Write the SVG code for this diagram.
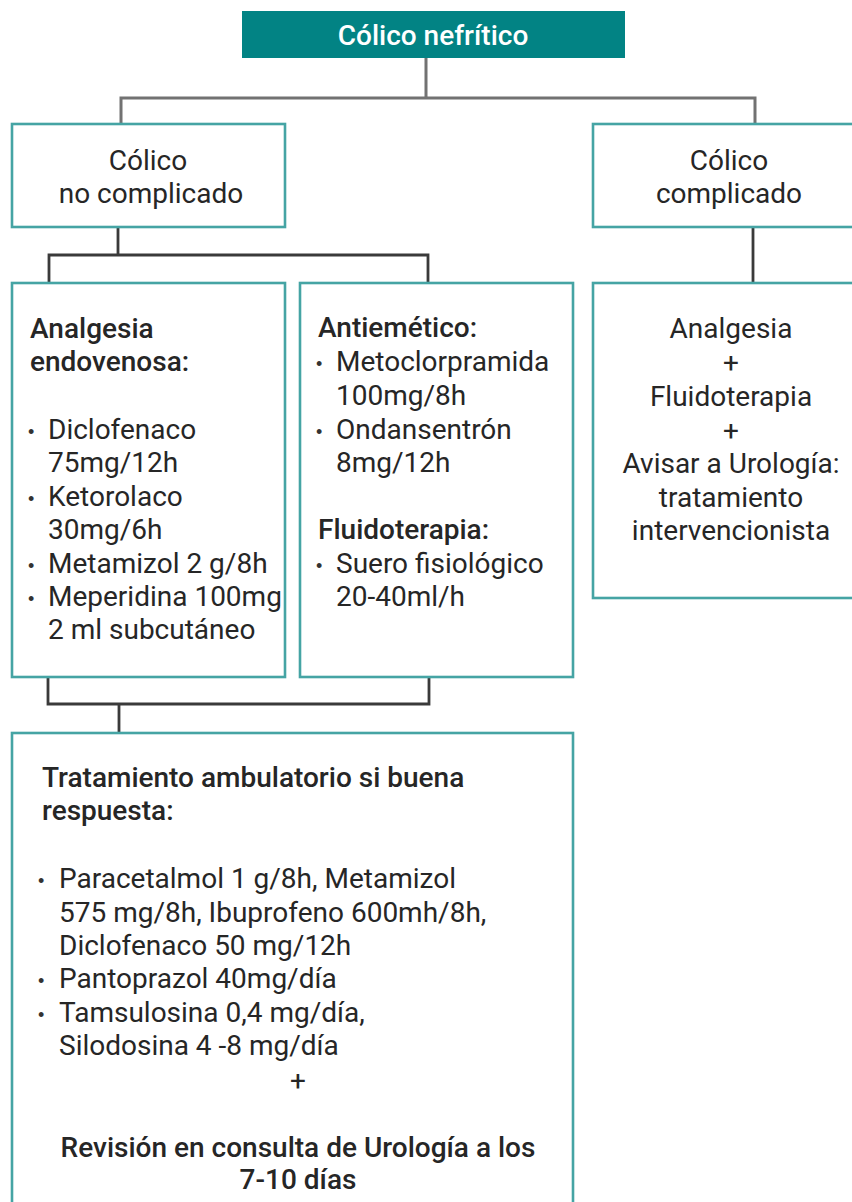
<svg xmlns="http://www.w3.org/2000/svg" width="852" height="1202" viewBox="0 0 852 1202">
<style>
.box{fill:#fff;stroke:#45a4a4;stroke-width:2.6}
.t{font-family:Roboto,"Liberation Sans",sans-serif;font-size:28px;fill:#262626}
.b{font-weight:500}
.c{text-anchor:middle}
.bu{font-family:"Liberation Sans",sans-serif;font-size:18px;fill:#333}
.ln{fill:none;stroke:#3a3a3a;stroke-width:2.8}
.lt{fill:none;stroke:#727272;stroke-width:3}
</style>
<rect width="852" height="1202" fill="#fff"/>
<g id="connectors">
<path class="lt" d="M426,58 V98 M121,124 V98 H755 V124"/>
<path class="ln" d="M118,228 V255 M49,283 V255 H428 V283"/>
<path class="ln" d="M753,228 V283"/>
<path class="ln" d="M48,677 V704 H429 V677 M119,704 V733"/>
</g>
<g id="root">
<rect x="242" y="11" width="383" height="47" fill="#028384"/>
<text class="t b c" x="433" y="45" fill="#fff" style="fill:#fff">Cólico nefrítico</text>
</g>
<g id="no-complicado">
<rect class="box" x="12" y="124" width="273" height="103"/>
<text class="t c" x="148" y="170">Cólico</text>
<text class="t c" x="151" y="203">no complicado</text>
</g>
<g id="complicado">
<rect class="box" x="593" y="124" width="273" height="103"/>
<text class="t c" x="729" y="170">Cólico</text>
<text class="t c" x="729" y="203">complicado</text>
</g>
<g id="analgesia">
<rect class="box" x="12" y="283" width="273" height="394"/>
<text class="t b" x="30" y="338">Analgesia</text>
<text class="t b" x="30" y="371">endovenosa:</text>
<text class="bu" x="28" y="438">•</text>
<text class="t" x="48" y="439">Diclofenaco</text>
<text class="t" x="48" y="472">75mg/12h</text>
<text class="bu" x="28" y="505">•</text>
<text class="t" x="48" y="506">Ketorolaco</text>
<text class="t" x="48" y="539">30mg/6h</text>
<text class="bu" x="28" y="572">•</text>
<text class="t" x="48" y="573">Metamizol 2 g/8h</text>
<text class="bu" x="28" y="605">•</text>
<text class="t" x="48" y="606">Meperidina 100mg</text>
<text class="t" x="48" y="639">2 ml subcutáneo</text>
</g>
<g id="antiemetico">
<rect class="box" x="300" y="283" width="273" height="394"/>
<text class="t b" x="318" y="337">Antiemético:</text>
<text class="bu" x="316" y="370">•</text>
<text class="t" x="336" y="371">Metoclorpramida</text>
<text class="t" x="336" y="405">100mg/8h</text>
<text class="bu" x="316" y="438">•</text>
<text class="t" x="336" y="439">Ondansentrón</text>
<text class="t" x="336" y="472">8mg/12h</text>
<text class="t b" x="318" y="539">Fluidoterapia:</text>
<text class="bu" x="316" y="572">•</text>
<text class="t" x="336" y="573">Suero fisiológico</text>
<text class="t" x="336" y="606">20-40ml/h</text>
</g>
<g id="tratamiento-complicado">
<rect class="box" x="593" y="283" width="273" height="315"/>
<text class="t c" x="731" y="338">Analgesia</text>
<text class="t c" x="731" y="372">+</text>
<text class="t c" x="731" y="406">Fluidoterapia</text>
<text class="t c" x="731" y="440">+</text>
<text class="t c" x="731" y="473">Avisar a Urología:</text>
<text class="t c" x="731" y="507">tratamiento</text>
<text class="t c" x="731" y="540">intervencionista</text>
</g>
<g id="ambulatorio">
<rect class="box" x="12" y="733" width="561" height="480"/>
<text class="t b" x="42" y="787">Tratamiento ambulatorio si buena</text>
<text class="t b" x="42" y="820">respuesta:</text>
<text class="bu" x="38" y="887">•</text>
<text class="t" x="59" y="888">Paracetalmol 1 g/8h, Metamizol</text>
<text class="t" x="59" y="922">575 mg/8h, Ibuprofeno 600mh/8h,</text>
<text class="t" x="59" y="955">Diclofenaco 50 mg/12h</text>
<text class="bu" x="38" y="987">•</text>
<text class="t" x="59" y="988">Pantoprazol 40mg/día</text>
<text class="bu" x="38" y="1021">•</text>
<text class="t" x="59" y="1022">Tamsulosina 0,4 mg/día,</text>
<text class="t" x="59" y="1055">Silodosina 4 -8 mg/día</text>
<text class="t c" x="298" y="1090">+</text>
<text class="t b c" x="298" y="1157">Revisión en consulta de Urología a los</text>
<text class="t b c" x="298" y="1189">7-10 días</text>
</g>
</svg>
